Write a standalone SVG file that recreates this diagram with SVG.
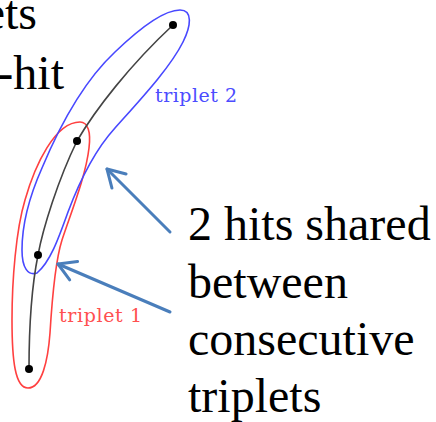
<svg xmlns="http://www.w3.org/2000/svg" width="436" height="422" viewBox="0 0 436 422">
<style>
.big{font-family:"Liberation Serif","Times New Roman",serif;font-size:48px;fill:#000}
.lbl{font-family:"DejaVu Serif","Liberation Serif",serif;font-size:19px}
.hit{fill:#000}
.trk{fill:none;stroke:#444;stroke-width:1.6}
.arr{fill:none;stroke:#4a7ebb;stroke-width:3;stroke-linecap:round}
</style>
<defs>
<marker id="ah" markerUnits="userSpaceOnUse" markerWidth="30" markerHeight="30" viewBox="-25 -15 30 30" refX="0" refY="0" orient="auto">
<path d="M-17,-10 L0,0 L-17,10" fill="none" stroke="#4a7ebb" stroke-width="3" stroke-linecap="round" stroke-linejoin="round"/>
</marker>
</defs>
<rect width="436" height="422" fill="#fff"/>
<g id="title-fragment">
<text class="big" x="37" y="29" text-anchor="end">ets</text>
<text class="big" x="64" y="89" text-anchor="end">-hit</text>
</g>
<g id="triplet1">
<path d="M80,122 C88,122 91,132 89,148 C86,175 72,210 62,240 C55,262 52,300 50,333 C48,360 42,388 28,388 C15,388 12,360 12,320 C12,280 16,230 25,200 C35,165 55,122 80,122 Z" fill="none" stroke="#ff4040" stroke-width="1.6"/>
<text class="lbl" x="59" y="322" fill="#ff5050" textLength="83">triplet 1</text>
</g>
<g id="triplet2">
<path d="M180,10 C193,10 191,26 183,42 C170,68 140,100 115,128 C95,150 80,180 68,212 C58,240 50,262 37,273 C28,276 22,268 22,250 C22,225 30,195 42,168 C60,125 85,80 115,52 C140,28 165,10 180,10 Z" fill="none" stroke="#4848ff" stroke-width="1.6"/>
<text class="lbl" x="155" y="102" fill="#4c4cff" textLength="82">triplet 2</text>
</g>
<g id="track">
<path class="trk" d="M29,369 C29,320 33,280 38,255 C43,228 58,180 77,141 C95,110 130,65 173,25"/>
</g>
<g id="hits">
<circle id="hit1" class="hit" cx="29" cy="369" r="4"/>
<circle id="hit2" class="hit" cx="38" cy="255" r="4"/>
<circle id="hit3" class="hit" cx="77" cy="141" r="4"/>
<circle id="hit4" class="hit" cx="173" cy="25" r="4"/>
</g>
<g id="note">
<text class="big" x="188" y="240">2 hits shared</text>
<text class="big" x="188" y="298">between</text>
<text class="big" x="188" y="355">consecutive</text>
<text class="big" x="188" y="412">triplets</text>
</g>
<g id="connectors">
<path class="arr" d="M170,232 L107,169" marker-end="url(#ah)"/>
<path class="arr" d="M170,312 L58,264" marker-end="url(#ah)"/>
</g>
</svg>
